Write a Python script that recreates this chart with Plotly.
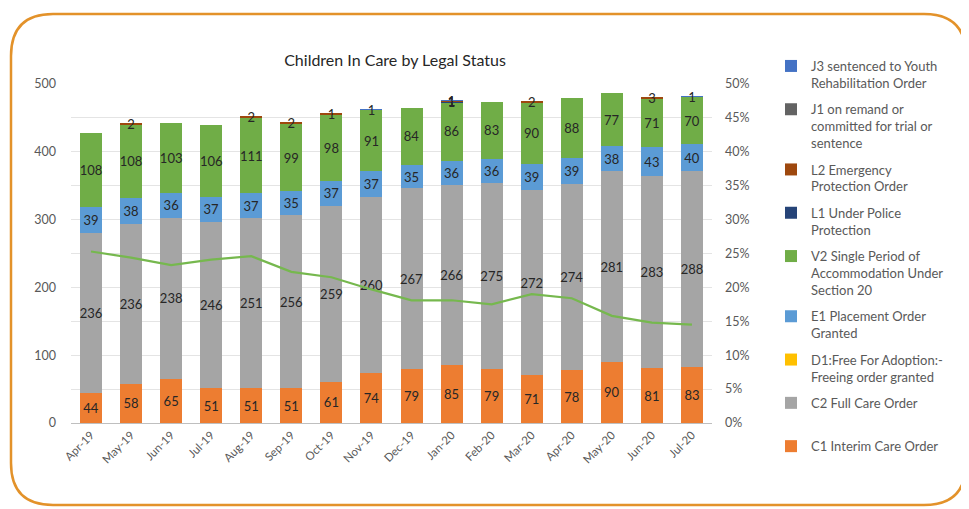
import plotly.graph_objects as go

months = ["Apr-19", "May-19", "Jun-19", "Jul-19", "Aug-19", "Sep-19", "Oct-19", "Nov-19",
          "Dec-19", "Jan-20", "Feb-20", "Mar-20", "Apr-20", "May-20", "Jun-20", "Jul-20"]

c1_interim = [44, 58, 65, 51, 51, 51, 61, 74, 79, 85, 79, 71, 78, 90, 81, 83]
c2_full = [236, 236, 238, 246, 251, 256, 259, 260, 267, 266, 275, 272, 274, 281, 283, 288]
d1_free = [0, 0, 0, 0, 0, 0, 0, 0, 0, 0, 0, 0, 0, 0, 0, 0]
e1_placement = [39, 38, 36, 37, 37, 35, 37, 37, 35, 36, 36, 39, 39, 38, 43, 40]
v2_single = [108, 108, 103, 106, 111, 99, 98, 91, 84, 86, 83, 90, 88, 77, 71, 70]
l1_police = [0, 0, 0, 0, 0, 0, 0, 0, 0, 1, 0, 0, 0, 0, 0, 0]
l2_emergency = [0, 2, 0, 0, 2, 2, 1, 0, 0, 1, 0, 2, 0, 0, 3, 0]
j1_remand = [0, 0, 0, 0, 0, 0, 0, 0, 0, 0, 0, 0, 0, 0, 0, 0]
j3_youth = [0, 0, 0, 0, 0, 0, 0, 1, 0, 1, 0, 0, 0, 0, 0, 1]

v2_share = [0.253, 0.244, 0.233, 0.241, 0.246, 0.223, 0.215, 0.197,
            0.181, 0.181, 0.175, 0.190, 0.184, 0.158, 0.148, 0.145]

series = [
    ("C1 Interim Care Order<br> ", c1_interim, "#ED7D31"),
    ("C2 Full Care Order<br> ", c2_full, "#A5A5A5"),
    ("D1:Free For Adoption:-<br>Freeing order granted", d1_free, "#FFC000"),
    ("E1 Placement Order<br>Granted", e1_placement, "#5B9BD5"),
    ("V2 Single Period of<br>Accommodation Under<br>Section 20", v2_single, "#70AD47"),
    ("L1 Under Police<br>Protection", l1_police, "#264478"),
    ("L2 Emergency<br>Protection Order", l2_emergency, "#9E480E"),
    ("J1 on remand or<br>committed for trial or<br>sentence", j1_remand, "#636363"),
    ("J3 sentenced to Youth<br>Rehabilitation Order", j3_youth, "#4472C4"),
]

FONT = "Lato, 'Open Sans', sans-serif"

fig = go.Figure()
for i, (name, vals, color) in enumerate(series):
    fig.add_trace(go.Bar(
        x=months, y=vals, name=name, marker_color=color,
        marker_line_width=0, legendgroup=f"g{i}", legendrank=100 - i,
        text=[str(v) if v else "" for v in vals],
        textposition="inside", insidetextanchor="middle",
        constraintext="none", textangle=0,
        textfont=dict(size=13, color="#262626", family=FONT),
        hoverinfo="x+y",
    ))

fig.add_trace(go.Scatter(
    x=months, y=v2_share, mode="lines", yaxis="y2",
    line=dict(color="#76B84E", width=2.2), showlegend=False,
))

# The page adds an 8px body margin; work in reference pixel coords and shift.
OFF = 8
W, H = 969 - OFF, 509 - OFF
PL, PR, PT, PB = 71, 712, 84, 423          # plot area in reference pixels
L, R, T, B = PL - OFF, W - (PR - OFF), PT - OFF, H - (PB - OFF)
pw, ph = PR - PL, PB - PT


def px(x):
    return (x - PL) / pw


def py(y):
    return (PB - y) / ph


# rounded border (reference pixel coords)
x0, y0, x1, y1, r = 11, 14, 966, 505, 42
path = (f"M {px(x0 + r)},{py(y0)} L {px(x1 - r)},{py(y0)} "
        f"Q {px(x1)},{py(y0)} {px(x1)},{py(y0 + r)} "
        f"L {px(x1)},{py(y1 - r)} Q {px(x1)},{py(y1)} {px(x1 - r)},{py(y1)} "
        f"L {px(x0 + r)},{py(y1)} Q {px(x0)},{py(y1)} {px(x0)},{py(y1 - r)} "
        f"L {px(x0)},{py(y0 + r)} Q {px(x0)},{py(y0)} {px(x0 + r)},{py(y0)} Z")

fig.update_layout(
    width=W, height=H,
    margin=dict(l=L, r=R, t=T, b=B, autoexpand=False),
    paper_bgcolor="white", plot_bgcolor="white",
    barmode="stack", bargap=0.45,
    font=dict(family=FONT, size=12, color="#595959"),
    title=dict(text="Children In Care by Legal Status", x=px(395), xref="paper",
               xanchor="center", y=1 - (60 - OFF) / H, yref="container", yanchor="middle",
               font=dict(size=16, color="#262626", family=FONT)),
    xaxis=dict(tickangle=-45, showgrid=False, showline=True, linecolor="#BFBFBF",
               linewidth=1, ticks="", tickfont=dict(size=11.5, color="#595959")),
    yaxis=dict(range=[0, 500], tickvals=[0, 100, 200, 300, 400, 500], showgrid=False,
               zeroline=False, ticks="", ticklabelstandoff=14,
               tickfont=dict(size=12.5, color="#595959")),
    yaxis2=dict(range=[0, 0.5], overlaying="y", side="right", tickformat=".0%",
                dtick=0.05, showgrid=True, gridcolor="#E4E4E4", gridwidth=1,
                zeroline=False, ticks="", ticklabelstandoff=12,
                tickfont=dict(size=12.5, color="#595959")),
    legend=dict(x=px(771), y=py(51), xanchor="left", yanchor="top",
                traceorder="grouped", valign="top", tracegroupgap=6.5,
                font=dict(size=13, color="#595959", family=FONT),
                itemwidth=30, bgcolor="rgba(0,0,0,0)", maxheight=490),
    shapes=[dict(type="path", path=path, xref="paper", yref="paper",
                 line=dict(color="#E3922A", width=2.5), layer="above")],
    showlegend=True,
)

fig.write_html("out.html")
